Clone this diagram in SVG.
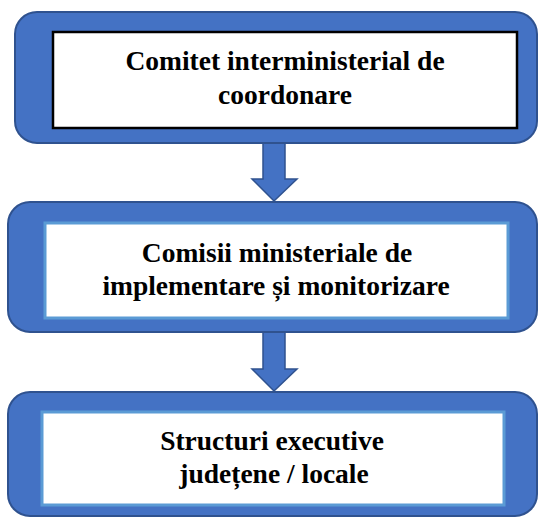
<svg xmlns="http://www.w3.org/2000/svg" width="538" height="517" viewBox="0 0 538 517">
<style>
.outer{fill:#4472C4;stroke:#2F528F;stroke-width:2}
.inner{fill:#FFFFFF;stroke:#5B9BD5;stroke-width:3}
.inner-dark{fill:#FFFFFF;stroke:#000000;stroke-width:2.5}
.arrow{fill:#4472C4;stroke:#2F528F;stroke-width:1.5;stroke-linejoin:miter}
.t{font-family:"Liberation Serif","Times New Roman",serif;font-weight:bold;font-size:27.5px;fill:#000;text-anchor:middle}
</style>
<rect width="538" height="517" fill="#FFFFFF"/>
<g id="connectors">
<path class="arrow" d="M263,143 L285,143 L285,179 L297,179 L274,201 L252,179 L263,179 Z"/>
<path class="arrow" d="M263,332 L285,332 L285,369 L297,369 L274,391 L252,369 L263,369 Z"/>
</g>
<g id="node1">
<rect class="outer" x="15" y="12" width="522" height="131" rx="22"/>
<rect class="inner-dark" x="53" y="32" width="464" height="96"/>
<text class="t" x="285" y="70">Comitet interministerial de</text>
<text class="t" x="285" y="104">coordonare</text>
</g>
<g id="node2">
<rect class="outer" x="8" y="202" width="529" height="130" rx="22"/>
<rect class="inner" x="45" y="223" width="463" height="95"/>
<text class="t" x="277" y="262">Comisii ministeriale de</text>
<text class="t" x="276" y="295">implementare și monitorizare</text>
</g>
<g id="node3">
<rect class="outer" x="8" y="392" width="529" height="124" rx="22"/>
<rect class="inner" x="42" y="412" width="462" height="93"/>
<text class="t" x="272" y="450">Structuri executive</text>
<text class="t" x="274" y="483">județene / locale</text>
</g>
</svg>
